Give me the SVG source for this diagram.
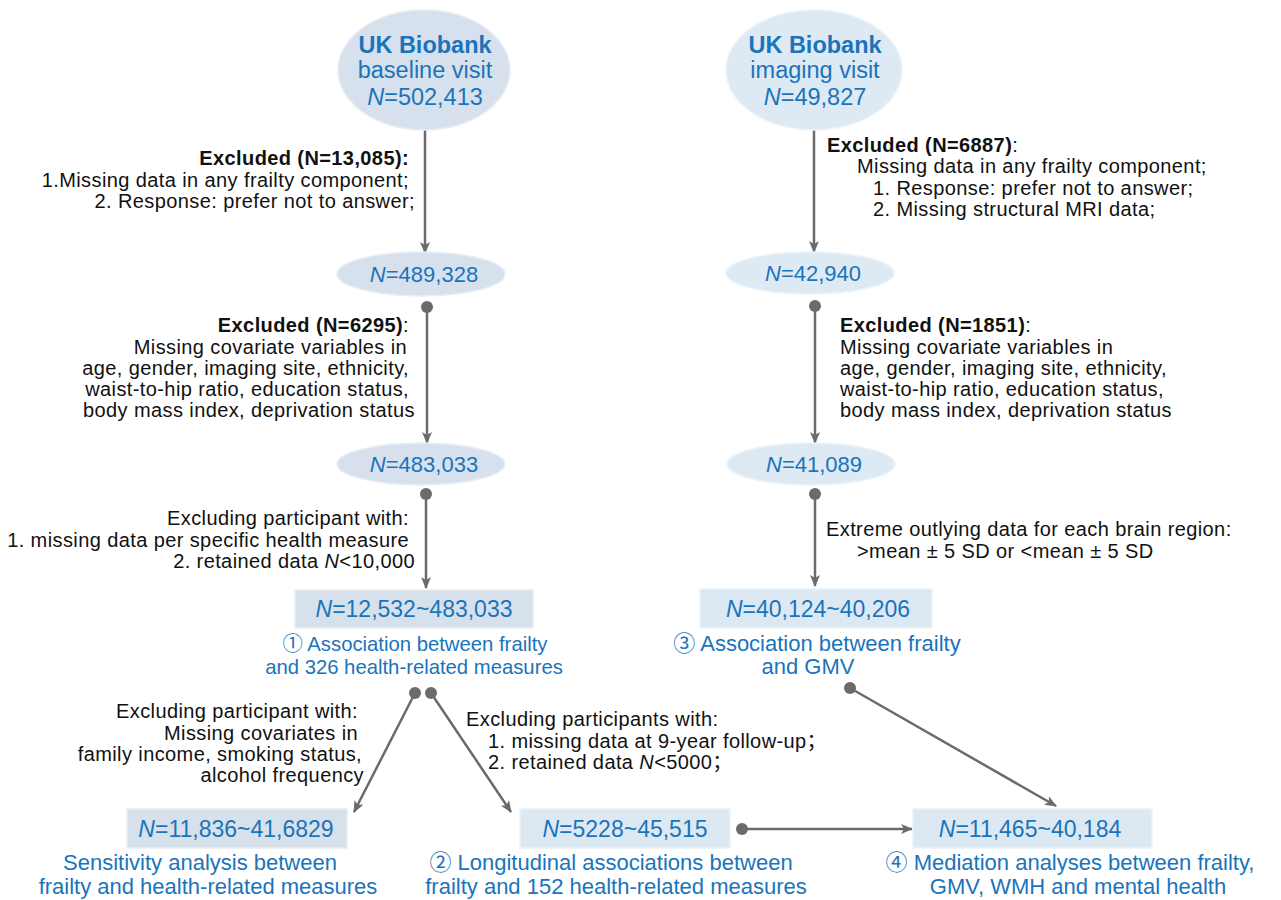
<svg xmlns="http://www.w3.org/2000/svg" width="1281" height="900" viewBox="0 0 1281 900">
<defs>
<marker id="ah" viewBox="0 0 12 10" refX="11" refY="5" markerWidth="12" markerHeight="10" markerUnits="userSpaceOnUse" orient="auto">
<path d="M0,0 L12,5 L0,10 L3,5 Z" fill="#6b6b6b"/>
</marker>
<style>
.t{font-family:"Liberation Sans",Arial,"Noto Sans CJK SC",sans-serif;font-size:20px;letter-spacing:0.4px;fill:#111}
.b{font-weight:bold}
.blue{font-family:"Liberation Sans",Arial,"Noto Sans CJK SC",sans-serif;font-size:22px;fill:#1a74bb}
.top{font-size:23.5px}
.head{font-weight:bold;font-size:23.5px}
.rn{font-size:23px}
.cap{font-size:22px}
.cap1{font-size:20.3px}
.e1{fill:#d6e1ed;stroke:#e8eef5;stroke-width:1.5}
.e2{fill:#dde9f3;stroke:#eef3f8;stroke-width:1.5}
.r1{fill:#d6e1ec;stroke:#e6edf4;stroke-width:1.5}
.r2{fill:#dce9f3;stroke:#ecf2f8;stroke-width:1.5}
.ln{stroke:#6b6b6b;stroke-width:2.5;fill:none}
.dot{fill:#6b6b6b}
</style>
</defs>
<rect width="1281" height="900" fill="#ffffff"/>

<g id="connectors">
<line class="ln" x1="425" y1="118" x2="425" y2="253" marker-end="url(#ah)"/>
<circle class="dot" cx="425" cy="118" r="6"/>
<line class="ln" x1="427" y1="307" x2="427" y2="443" marker-end="url(#ah)"/>
<circle class="dot" cx="427" cy="307" r="6"/>
<line class="ln" x1="426" y1="494" x2="426" y2="588" marker-end="url(#ah)"/>
<circle class="dot" cx="426" cy="494" r="6"/>
<line class="ln" x1="415" y1="693" x2="354" y2="812" marker-end="url(#ah)"/>
<circle class="dot" cx="415" cy="693" r="6"/>
<line class="ln" x1="431" y1="693" x2="511" y2="812" marker-end="url(#ah)"/>
<circle class="dot" cx="431" cy="693" r="6"/>
<line class="ln" x1="742" y1="829" x2="912" y2="829" marker-end="url(#ah)"/>
<circle class="dot" cx="742" cy="829" r="6"/>
<line class="ln" x1="814" y1="118" x2="814" y2="252" marker-end="url(#ah)"/>
<circle class="dot" cx="814" cy="118" r="6"/>
<line class="ln" x1="815" y1="306" x2="815" y2="443" marker-end="url(#ah)"/>
<circle class="dot" cx="815" cy="306" r="6"/>
<line class="ln" x1="815" y1="494" x2="815" y2="586" marker-end="url(#ah)"/>
<circle class="dot" cx="815" cy="494" r="6"/>
<line class="ln" x1="850" y1="688" x2="1056" y2="806" marker-end="url(#ah)"/>
<circle class="dot" cx="850" cy="688" r="6"/>
</g>

<g id="node-baseline">
<ellipse class="e1" cx="424" cy="70" rx="86" ry="60"/>
<text class="blue head" x="425" y="53" text-anchor="middle">UK Biobank</text>
<text class="blue top" x="425" y="78" text-anchor="middle">baseline visit</text>
<text class="blue top" x="425" y="105" text-anchor="middle"><tspan font-style="italic">N</tspan>=502,413</text>
</g>

<g id="node-imaging">
<ellipse class="e2" cx="814" cy="70" rx="88" ry="60"/>
<text class="blue head" x="815" y="53" text-anchor="middle">UK Biobank</text>
<text class="blue top" x="815" y="78" text-anchor="middle">imaging visit</text>
<text class="blue top" x="815" y="105" text-anchor="middle"><tspan font-style="italic">N</tspan>=49,827</text>
</g>

<g id="node-489328">
<ellipse class="e1" cx="421" cy="274" rx="84" ry="22"/>
<text class="blue" x="424" y="282" text-anchor="middle"><tspan font-style="italic">N</tspan>=489,328</text>
</g>

<g id="node-42940">
<ellipse class="e2" cx="810" cy="273" rx="84" ry="21"/>
<text class="blue" x="813" y="281" text-anchor="middle"><tspan font-style="italic">N</tspan>=42,940</text>
</g>

<g id="node-483033">
<ellipse class="e1" cx="421" cy="464" rx="84" ry="21"/>
<text class="blue" x="424" y="472" text-anchor="middle"><tspan font-style="italic">N</tspan>=483,033</text>
</g>

<g id="node-41089">
<ellipse class="e2" cx="811" cy="464" rx="84" ry="21"/>
<text class="blue" x="814" y="472" text-anchor="middle"><tspan font-style="italic">N</tspan>=41,089</text>
</g>

<g id="node-analysis1">
<rect class="r1" x="295" y="590" width="238" height="38"/>
<text class="blue rn" x="414" y="617" text-anchor="middle"><tspan font-style="italic">N</tspan>=12,532~483,033</text>
<text class="blue cap1" x="415" y="651" text-anchor="middle">① Association between frailty</text>
<text class="blue cap1" x="414" y="674" text-anchor="middle">and 326 health-related measures</text>
</g>

<g id="node-analysis3">
<rect class="r2" x="700" y="589" width="232" height="39"/>
<text class="blue rn" x="818" y="617" text-anchor="middle"><tspan font-style="italic">N</tspan>=40,124~40,206</text>
<text class="blue cap" x="817" y="651" text-anchor="middle">③ Association between frailty</text>
<text class="blue cap" x="808" y="674" text-anchor="middle">and GMV</text>
</g>

<g id="node-sensitivity">
<rect class="r1" x="127" y="809" width="220" height="39"/>
<text class="blue rn" x="236" y="837" text-anchor="middle"><tspan font-style="italic">N</tspan>=11,836~41,6829</text>
<text class="blue cap" x="200" y="870" text-anchor="middle">Sensitivity analysis between</text>
<text class="blue cap" x="208" y="894" text-anchor="middle">frailty and health-related measures</text>
</g>

<g id="node-analysis2">
<rect class="r2" x="520" y="809" width="210" height="39"/>
<text class="blue rn" x="625" y="837" text-anchor="middle"><tspan font-style="italic">N</tspan>=5228~45,515</text>
<text class="blue cap" x="611" y="870" text-anchor="middle">② Longitudinal associations between</text>
<text class="blue cap" x="616" y="894" text-anchor="middle">frailty and 152 health-related measures</text>
</g>

<g id="node-analysis4">
<rect class="r2" x="913" y="809" width="239" height="39"/>
<text class="blue rn" x="1030" y="837" text-anchor="middle"><tspan font-style="italic">N</tspan>=11,465~40,184</text>
<text class="blue cap" x="1070" y="870" text-anchor="middle">④ Mediation analyses between frailty,</text>
<text class="blue cap" x="1078" y="894" text-anchor="middle">GMV, WMH and mental health</text>
</g>

<g id="labels">
<text class="t" text-anchor="end">
<tspan class="b" x="415" y="165">Excluded (N=13,085):</tspan>
<tspan x="415" y="187">1.Missing data in any frailty component;</tspan>
<tspan x="415" y="208">2. Response: prefer not to answer;</tspan>
</text>
<text class="t" text-anchor="end">
<tspan x="415" y="332"><tspan class="b">Excluded (N=6295)</tspan>:</tspan>
<tspan x="413" y="354">Missing covariate variables in</tspan>
<tspan x="415" y="375">age, gender, imaging site, ethnicity,</tspan>
<tspan x="415" y="396">waist-to-hip ratio, education status,</tspan>
<tspan x="415" y="417">body mass index, deprivation status</tspan>
</text>
<text class="t" text-anchor="end">
<tspan x="415" y="525">Excluding participant with:</tspan>
<tspan x="415" y="547">1. missing data per specific health measure</tspan>
<tspan x="415" y="568">2. retained data <tspan font-style="italic">N</tspan>&lt;10,000</tspan>
</text>
<text class="t">
<tspan x="827" y="152"><tspan class="b">Excluded (N=6887)</tspan>:</tspan>
<tspan x="857" y="173">Missing data in any frailty component;</tspan>
<tspan x="873" y="195">1. Response: prefer not to answer;</tspan>
<tspan x="873" y="216">2. Missing structural MRI data;</tspan>
</text>
<text class="t">
<tspan x="840" y="332"><tspan class="b">Excluded (N=1851)</tspan>:</tspan>
<tspan x="840" y="354">Missing covariate variables in</tspan>
<tspan x="840" y="375">age, gender, imaging site, ethnicity,</tspan>
<tspan x="840" y="396">waist-to-hip ratio, education status,</tspan>
<tspan x="840" y="417">body mass index, deprivation status</tspan>
</text>
<text class="t">
<tspan x="826" y="536">Extreme outlying data for each brain region:</tspan>
<tspan x="857" y="558">&gt;mean ± 5 SD or &lt;mean ± 5 SD</tspan>
</text>
<text class="t" text-anchor="end">
<tspan x="364" y="718">Excluding participant with:</tspan>
<tspan x="364" y="740">Missing covariates in</tspan>
<tspan x="368" y="761">family income, smoking status, </tspan>
<tspan x="364" y="782">alcohol frequency</tspan>
</text>
<text class="t">
<tspan x="466" y="726">Excluding participants with:</tspan>
<tspan x="488" y="748">1. missing data at 9-year follow-up；</tspan>
<tspan x="488" y="769">2. retained data <tspan font-style="italic">N</tspan>&lt;5000；</tspan>
</text>
</g>
</svg>
